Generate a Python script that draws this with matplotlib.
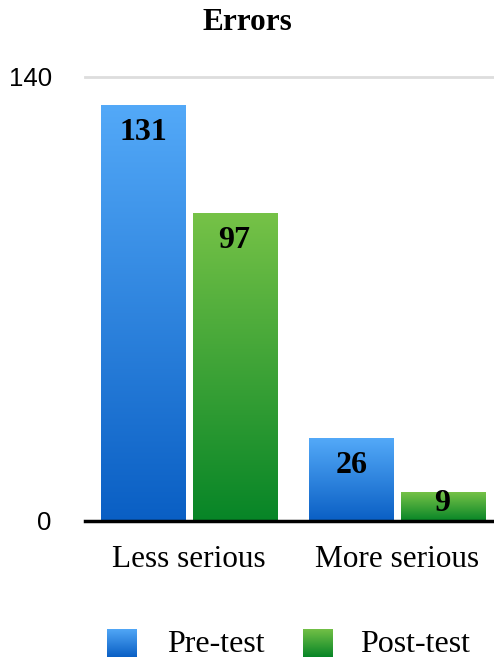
import numpy as np
import matplotlib
matplotlib.use("Agg")
import matplotlib.pyplot as plt
from matplotlib.colors import LinearSegmentedColormap

# Datos del grafico
categories = ["Less serious", "More serious"]
series_names = ["Pre-test", "Post-test"]
pre_test = [131, 26]
post_test = [97, 9]
y_ticks = [0, 140]

SERIF = ["Liberation Serif", "DejaVu Serif"]
SANS = ["Liberation Sans", "DejaVu Sans"]

# Degradados (arriba claro, abajo oscuro)
blue_cmap = LinearSegmentedColormap.from_list("blue", ["#0a5fc4", "#53a9f8"])
green_cmap = LinearSegmentedColormap.from_list("green", ["#078527", "#76c247"])
grad = np.linspace(0, 1, 256).reshape(-1, 1)

fig = plt.figure(figsize=(4.94, 6.59), dpi=100)
ax = fig.add_axes([85 / 494, 1 - 521 / 659, 409 / 494, 444 / 659])

x = np.arange(len(categories))
width = 0.404
offset = 0.219


def gradient_bars(xs, values, cmap):
    bars = ax.bar(xs, values, width, facecolor="none", edgecolor="none", zorder=2)
    for bar in bars:
        x0, w, h = bar.get_x(), bar.get_width(), bar.get_height()
        ax.imshow(grad, cmap=cmap, origin="lower", aspect="auto",
                  extent=[x0, x0 + w, 0, h], zorder=2, interpolation="bilinear")
        y_lab = max(h - 8.5, h * 0.62)
        ax.text(x0 + w / 2, y_lab, str(int(h)), ha="center", va="center",
                fontsize=23, fontweight="bold", family=SERIF, zorder=3)
    return bars


gradient_bars(x - offset, pre_test, blue_cmap)
gradient_bars(x + offset, post_test, green_cmap)

ax.set_xlim(-0.5, 1.466)
ax.set_ylim(0, 140)
ax.set_yticks(y_ticks)
ax.set_yticklabels([str(t) for t in y_ticks], family=SANS, fontsize=18.5)
ax.set_xticks(x)
ax.set_xticklabels(categories, family=SERIF, fontsize=22.5)
ax.tick_params(axis="y", length=0, pad=24)
ax.tick_params(axis="x", length=0, pad=17)

ax.axhline(140, color="#dddddd", lw=2, zorder=1, clip_on=False)
for side in ["top", "right", "left"]:
    ax.spines[side].set_visible(False)
ax.spines["bottom"].set_linewidth(2.5)
ax.spines["bottom"].set_zorder(4)

fig.text(0.5, 1 - 23 / 659, "Errors", ha="center", va="center",
         fontsize=22.5, fontweight="bold", family=SERIF)

# Leyenda manual con degradado
legend_items = [(107, 167, blue_cmap), (303, 360, green_cmap)]
for name, (sq_x, txt_x, cmap) in zip(series_names, legend_items):
    sq = fig.add_axes([sq_x / 494, 2 / 659, 30 / 494, 28 / 659])
    sq.imshow(grad, cmap=cmap, origin="lower", aspect="auto", interpolation="bilinear")
    sq.axis("off")
    fig.text(txt_x / 494, 1 - 645 / 659, name, ha="left", va="center",
             fontsize=23, family=SERIF)

fig.savefig("out.png", dpi=100)
